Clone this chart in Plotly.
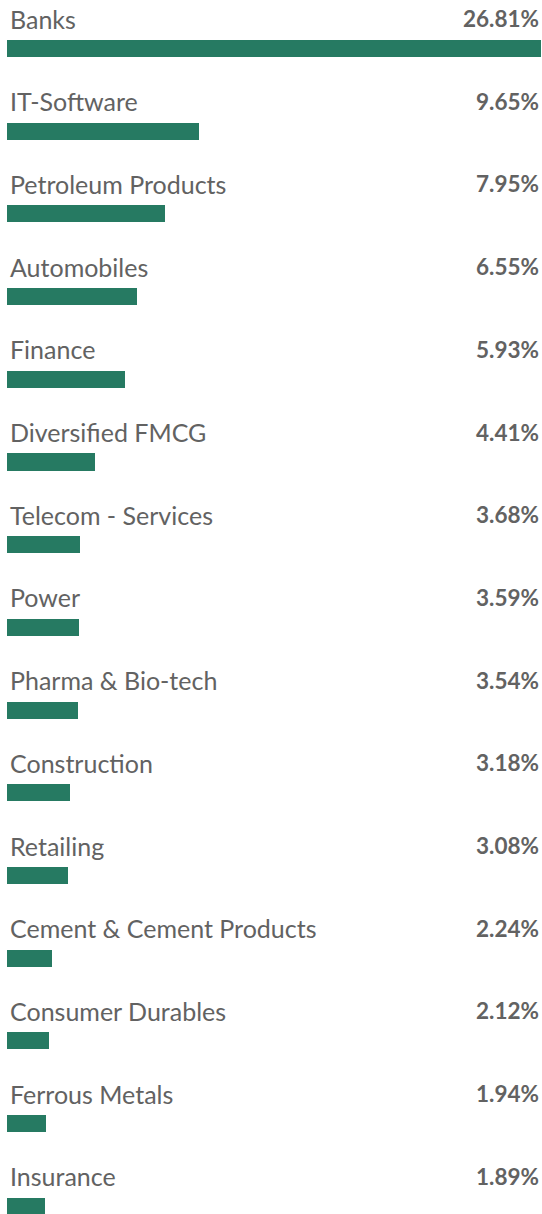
import plotly.graph_objects as go

categories = ["Banks", "IT-Software", "Petroleum Products", "Automobiles", "Finance",
              "Diversified FMCG", "Telecom - Services", "Power", "Pharma & Bio-tech",
              "Construction", "Retailing", "Cement & Cement Products", "Consumer Durables",
              "Ferrous Metals", "Insurance"]
values = [26.81, 9.65, 7.95, 6.55, 5.93, 4.41, 3.68, 3.59, 3.54, 3.18, 3.08, 2.24, 2.12, 1.94, 1.89]
value_labels = [f"{v:.2f}%" for v in values]

BAR = "#267a62"
TXT = "#626262"
FONT = "Lato"

idx = list(range(len(categories)))

fig = go.Figure()
fig.add_trace(go.Bar(
    x=values, y=idx, orientation="h", width=0.206,
    marker=dict(color=BAR, line=dict(width=0)), hoverinfo="skip",
))

annotations = []
for i, (c, lab) in enumerate(zip(categories, value_labels)):
    annotations.append(dict(x=0, xref="paper", y=i, yref="y", yshift=30,
                            text=c, showarrow=False, xanchor="left", yanchor="middle",
                            xshift=1,
                            font=dict(family=FONT, size=25, color=TXT)))
    annotations.append(dict(x=1, xref="paper", y=i, yref="y", yshift=30,
                            text=f"<b>{lab}</b>", showarrow=False, xanchor="right", yanchor="middle",
                            xshift=0,
                            font=dict(family=FONT, size=22.5, color=TXT)))

fig.update_layout(
    width=542, height=1214,
    margin=dict(l=7, r=1, t=0, b=0),
    paper_bgcolor="white", plot_bgcolor="white",
    showlegend=False,
    xaxis=dict(range=[0, max(values)], visible=False, fixedrange=True),
    yaxis=dict(range=[14.093, -0.5865], visible=False, fixedrange=True),
    annotations=annotations,
    bargap=0,
)

fig.write_html("out.html", config={"displayModeBar": False},
               post_script="document.body.style.margin='0';document.body.style.overflow='hidden';")
